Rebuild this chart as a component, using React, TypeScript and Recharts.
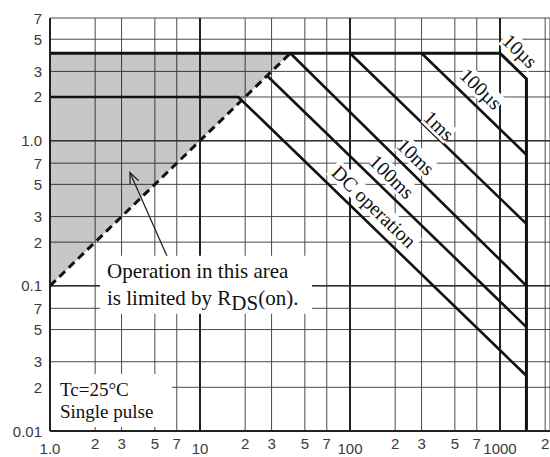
import {
  Area,
  CartesianGrid,
  ComposedChart,
  Line,
  ReferenceDot,
  ReferenceLine,
  XAxis,
  YAxis,
} from "recharts";

// axis ticks (log grid: 1, 2, 3, 5, 7 per decade)
const xTicks = [1, 2, 3, 5, 7, 10, 20, 30, 50, 70, 100, 200, 300, 500, 700, 1000, 2000];
const yTicks = [0.01, 0.02, 0.03, 0.05, 0.07, 0.1, 0.2, 0.3, 0.5, 0.7, 1, 2, 3, 5, 7];
const xDecades = [10, 100, 1000];
const yDecades = [0.1, 1];

// safe operating area limits, VDS (V) vs ID (A)
const us10V = [1, 1000, 1500, 1500];
const us10I = [4, 4, 2.67, 0.01];
const us100V = [300, 1500];
const us100I = [4, 0.8];
const ms1V = [100, 1500];
const ms1I = [4, 0.267];
const ms10V = [40, 1500];
const ms10I = [4, 0.1];
const ms100V = [28, 1500];
const ms100I = [2.8, 0.052];
const dcV = [1, 18, 1500];
const dcI = [2, 2, 0.024];

// RDS(on) limit (dashed) and shaded region under it
const rdsV = [1, 40];
const rdsI = [0.1, 4];
const shadeLow = [0.1, 4];
const shadeHigh = [4, 4];

// curve labels: text, position (V, A)
const labelText = ["10µs", "100µs", "1ms", "10ms", "100ms", "DC operation"];
const labelV = [1359, 747, 392, 275, 190, 144.5];
const labelI = [4.16, 2.28, 1.27, 0.776, 0.566, 0.352];

const zip = (v: number[], i: number[]) => v.map((x, k) => ({ v: x, i: i[k] }));

const curves = [
  { key: "10us", data: zip(us10V, us10I), width: 3 },
  { key: "100us", data: zip(us100V, us100I), width: 2.6 },
  { key: "1ms", data: zip(ms1V, ms1I), width: 2.6 },
  { key: "10ms", data: zip(ms10V, ms10I), width: 2.6 },
  { key: "100ms", data: zip(ms100V, ms100I), width: 2.6 },
  { key: "dc", data: zip(dcV, dcI), width: 2.6 },
];
const shadeData = rdsV.map((v, k) => ({ v, range: [shadeLow[k], shadeHigh[k]] }));

const SERIF = "'Liberation Serif', 'Times New Roman', serif";
const SANS = "'Liberation Sans', Arial, sans-serif";

function xLabel(v: number) {
  if (v === 1) return "1.0";
  if (xDecades.includes(v)) return String(v);
  return String(v).charAt(0);
}

function yLabel(v: number) {
  if (v === 1) return "1.0";
  if (v === 0.1 || v === 0.01) return String(v);
  return String(v).replace(/[0.]/g, "");
}

function XTick({ x, y, payload }: any) {
  const v = payload.value;
  const low = v === 1 || xDecades.includes(v);
  return (
    <text
      x={x}
      y={y + (low ? 17 : 12)}
      textAnchor="middle"
      dominantBaseline="central"
      fontFamily={SANS}
      fontSize={15}
      fill="#3a3a3a"
    >
      {xLabel(v)}
    </text>
  );
}

function YTick({ x, y, payload }: any) {
  return (
    <text
      x={x - 8}
      y={y}
      textAnchor="end"
      dominantBaseline="central"
      fontFamily={SANS}
      fontSize={15}
      fill="#3a3a3a"
    >
      {yLabel(payload.value)}
    </text>
  );
}

function CurveLabel({ cx, cy, text }: any) {
  const w = text.length * 9.2 + 4;
  return (
    <g transform={`translate(${cx},${cy}) rotate(44)`}>
      <rect x={-w / 2} y={-10} width={w} height={20} fill="#fff" />
      <text
        textAnchor="middle"
        dominantBaseline="central"
        fontFamily={SERIF}
        fontSize={20}
        fill="#111"
      >
        {text}
      </text>
    </g>
  );
}

function RdsNote({ cx, cy }: any) {
  return (
    <g>
      <rect x={cx - 106} y={cy - 27} width={212} height={58} fill="#fff" />
      <text x={cx - 99} y={cy - 5} fontFamily={SERIF} fontSize={21} fill="#111">
        Operation in this area
      </text>
      <text x={cx - 99} y={cy + 22} fontFamily={SERIF} fontSize={21} fill="#111">
        is limited by R
        <tspan dy={5}>DS</tspan>
        <tspan dy={-5}>(on).</tspan>
      </text>
    </g>
  );
}

function CondNote({ cx, cy }: any) {
  return (
    <g>
      <rect x={cx - 60} y={cy - 27} width={121} height={53} fill="#fff" />
      <text x={cx - 51} y={cy - 5} fontFamily={SERIF} fontSize={19} fill="#111">
        Tc=25°C
      </text>
      <text x={cx - 51} y={cy + 17} fontFamily={SERIF} fontSize={19} fill="#111">
        Single pulse
      </text>
    </g>
  );
}

function Arrow({ x1, y1, x2, y2 }: any) {
  const a = Math.atan2(y2 - y1, x2 - x1);
  const len = 12;
  const spread = 0.4;
  const p1 = [x2 - len * Math.cos(a - spread), y2 - len * Math.sin(a - spread)];
  const p2 = [x2 - len * Math.cos(a + spread), y2 - len * Math.sin(a + spread)];
  return (
    <g stroke="#222" strokeWidth={1.3} fill="none">
      <line x1={x1} y1={y1} x2={x2} y2={y2} />
      <polyline points={`${p1[0]},${p1[1]} ${x2},${y2} ${p2[0]},${p2[1]}`} />
    </g>
  );
}

export default function App() {
  return (
    <div style={{ width: 550, height: 457, background: "#fff" }}>
      <style>{"body{margin:0}"}</style>
      <ComposedChart width={550} height={457} margin={{ top: 18, right: 0, bottom: 0, left: 0 }}>
        <CartesianGrid stroke="#4a4a4a" strokeWidth={1} />
        <XAxis
          dataKey="v"
          type="number"
          scale="log"
          domain={[1, 2154]}
          allowDataOverflow
          ticks={xTicks}
          interval={0}
          tickLine={false}
          tickSize={0}
          tickMargin={0}
          axisLine={{ stroke: "#222", strokeWidth: 2 }}
          height={26}
          tick={<XTick />}
        />
        <YAxis
          type="number"
          scale="log"
          domain={[0.01, 7]}
          allowDataOverflow
          ticks={yTicks}
          interval={0}
          tickLine={false}
          tickSize={0}
          tickMargin={0}
          axisLine={{ stroke: "#222", strokeWidth: 2 }}
          width={50}
          tick={<YTick />}
        />
        <Area
          data={shadeData}
          dataKey="range"
          type="linear"
          stroke="none"
          fill="#000"
          fillOpacity={0.22}
          isAnimationActive={false}
        />
        {xDecades.map((v) => (
          <ReferenceLine key={`xd${v}`} x={v} stroke="#222" strokeWidth={2} />
        ))}
        {yDecades.map((v) => (
          <ReferenceLine key={`yd${v}`} y={v} stroke="#333" strokeWidth={1.5} />
        ))}
        {curves.map((c) => (
          <Line
            key={c.key}
            data={c.data}
            dataKey="i"
            type="linear"
            stroke="#111"
            strokeWidth={c.width}
            dot={false}
            activeDot={false}
            isAnimationActive={false}
          />
        ))}
        <Line
          data={zip(rdsV, rdsI)}
          dataKey="i"
          type="linear"
          stroke="#111"
          strokeWidth={3}
          strokeDasharray="8 5"
          dot={false}
          activeDot={false}
          isAnimationActive={false}
        />
        <ReferenceLine
          segment={[
            { x: 6.03, y: 0.16 },
            { x: 3.41, y: 0.603 },
          ]}
          shape={(p: any) => <Arrow {...p} />}
        />
        {labelText.map((t, k) => (
          <ReferenceDot
            key={t}
            x={labelV[k]}
            y={labelI[k]}
            r={0}
            ifOverflow="visible"
            shape={(p: any) => <CurveLabel {...p} text={t} />}
          />
        ))}
        <ReferenceDot x={10.97} y={0.105} r={0} shape={(p: any) => <RdsNote {...p} />} />
        <ReferenceDot x={2.55} y={0.0161} r={0} shape={(p: any) => <CondNote {...p} />} />
      </ComposedChart>
    </div>
  );
}
